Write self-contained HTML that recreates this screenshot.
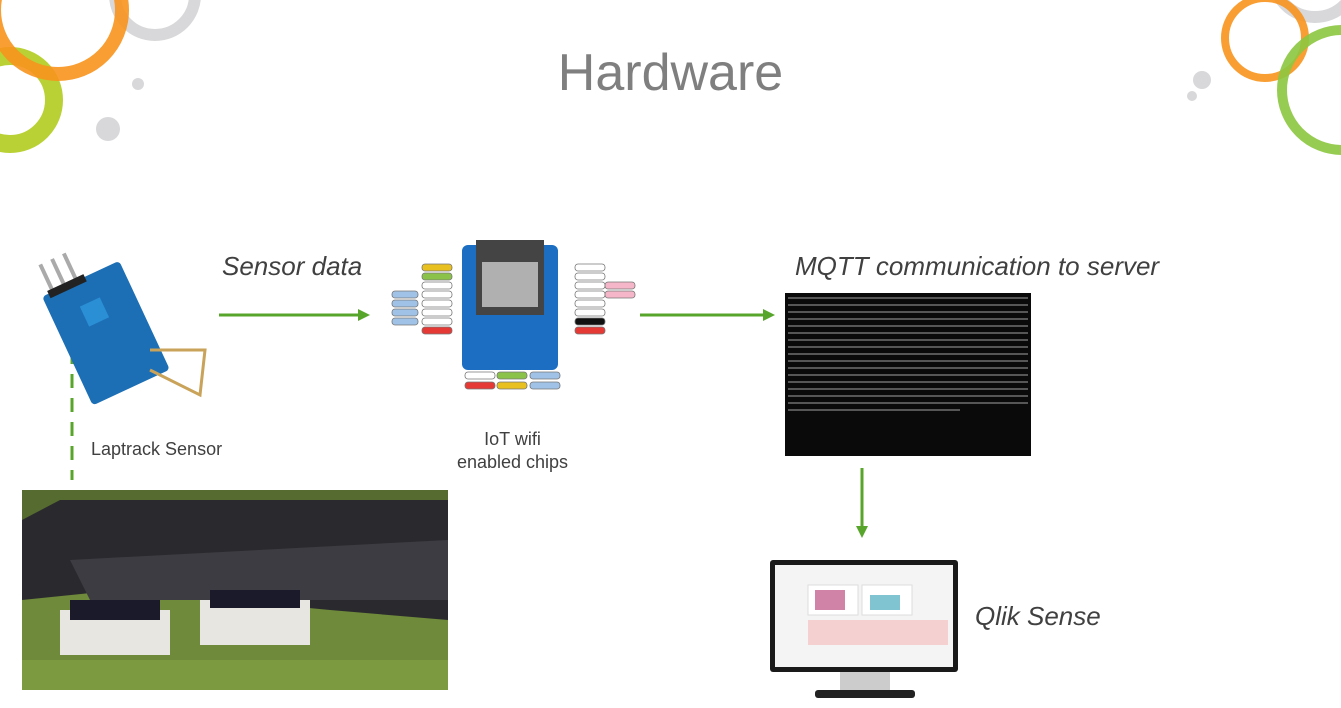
<!DOCTYPE html>
<html><head><style>
body{margin:0;width:1341px;height:708px;overflow:hidden;background:#fff;font-family:"Liberation Sans",sans-serif;position:relative}
.a{position:absolute}
.t{position:absolute;color:#404040}
</style></head><body>
<svg class="a" style="left:0;top:0" width="1341" height="708">
<circle cx="155" cy="-5" r="40" fill="none" stroke="#d8d8da" stroke-width="12"/>
<circle cx="10" cy="100" r="44" fill="none" stroke="#b5cf2a" stroke-width="18" opacity=".95"/>
<circle cx="58" cy="10" r="64" fill="none" stroke="#f7941d" stroke-width="14" opacity=".9"/>
<circle cx="138" cy="84" r="6" fill="#d8d8da"/>
<circle cx="108" cy="129" r="12" fill="#d8d8da"/>
<circle cx="1315" cy="-25" r="42" fill="none" stroke="#d8d8da" stroke-width="12"/>
<circle cx="1265" cy="38" r="40" fill="none" stroke="#f7941d" stroke-width="8" opacity=".9"/>
<circle cx="1342" cy="90" r="60" fill="none" stroke="#8cc63f" stroke-width="10" opacity=".9"/>
<circle cx="1202" cy="80" r="9" fill="#d8d8da"/>
<circle cx="1192" cy="96" r="5" fill="#d8d8da"/>
<line x1="219" y1="315" x2="360" y2="315" stroke="#58a52c" stroke-width="3"/>
<polygon points="358,309 370,315 358,321" fill="#58a52c"/>
<line x1="640" y1="315" x2="765" y2="315" stroke="#58a52c" stroke-width="3"/>
<polygon points="763,309 775,315 763,321" fill="#58a52c"/>
<line x1="862" y1="468" x2="862" y2="528" stroke="#58a52c" stroke-width="3"/>
<polygon points="856,526 862,538 868,526" fill="#58a52c"/>
<line x1="72" y1="350" x2="72" y2="480" stroke="#58a52c" stroke-width="3" stroke-dasharray="14,10"/>
<g transform="rotate(-25 120 310)">
<rect x="55" y="265" width="85" height="120" rx="4" fill="#1c6fb5"/>
<rect x="85" y="290" width="22" height="22" fill="#2b8fd6"/>
<rect x="65" y="235" width="4" height="30" fill="#aaa"/><rect x="78" y="235" width="4" height="30" fill="#aaa"/><rect x="91" y="235" width="4" height="30" fill="#aaa"/>
<rect x="62" y="262" width="40" height="8" fill="#222"/>
</g>
<path d="M150 350 L205 350 L200 395 L150 370" fill="none" stroke="#c9a35a" stroke-width="3"/>
<rect x="462" y="245" width="96" height="125" rx="6" fill="#1b6ec2"/>
<rect x="476" y="240" width="68" height="75" fill="#444"/>
<rect x="482" y="262" width="56" height="45" fill="#b0b0b0"/>
<g fill="#fff" stroke="#777" stroke-width=".8">
<rect x="422" y="264" width="30" height="7" rx="3" fill="#e8c020"/><rect x="422" y="273" width="30" height="7" rx="3" fill="#8bc34a"/>
<rect x="422" y="282" width="30" height="7" rx="3"/><rect x="422" y="291" width="30" height="7" rx="3"/>
<rect x="392" y="291" width="26" height="7" rx="3" fill="#9fc2e6"/><rect x="392" y="300" width="26" height="7" rx="3" fill="#9fc2e6"/>
<rect x="392" y="309" width="26" height="7" rx="3" fill="#9fc2e6"/><rect x="392" y="318" width="26" height="7" rx="3" fill="#9fc2e6"/>
<rect x="422" y="300" width="30" height="7" rx="3"/><rect x="422" y="309" width="30" height="7" rx="3"/><rect x="422" y="318" width="30" height="7" rx="3"/>
<rect x="422" y="327" width="30" height="7" rx="3" fill="#e53935"/>
<rect x="575" y="264" width="30" height="7" rx="3"/><rect x="575" y="273" width="30" height="7" rx="3"/>
<rect x="575" y="282" width="30" height="7" rx="3"/><rect x="575" y="291" width="30" height="7" rx="3"/>
<rect x="605" y="282" width="30" height="7" rx="3" fill="#f4b6c8"/><rect x="605" y="291" width="30" height="7" rx="3" fill="#f4b6c8"/>
<rect x="575" y="300" width="30" height="7" rx="3"/><rect x="575" y="309" width="30" height="7" rx="3"/>
<rect x="575" y="318" width="30" height="7" rx="3" fill="#111"/><rect x="575" y="327" width="30" height="7" rx="3" fill="#e53935"/>
<rect x="465" y="372" width="30" height="7" rx="3"/><rect x="497" y="372" width="30" height="7" rx="3" fill="#8bc34a"/><rect x="530" y="372" width="30" height="7" rx="3" fill="#9fc2e6"/>
<rect x="465" y="382" width="30" height="7" rx="3" fill="#e53935"/><rect x="497" y="382" width="30" height="7" rx="3" fill="#e8c020"/><rect x="530" y="382" width="30" height="7" rx="3" fill="#9fc2e6"/>
</g>
<rect x="785" y="293" width="246" height="163" fill="#0a0a0a"/>
<g stroke="#9a9a9a" stroke-width="1.5" opacity=".7">
<line x1="788" y1="298" x2="1028" y2="298"/><line x1="788" y1="305" x2="1028" y2="305"/><line x1="788" y1="312" x2="1028" y2="312"/><line x1="788" y1="319" x2="1028" y2="319"/><line x1="788" y1="326" x2="1028" y2="326"/><line x1="788" y1="333" x2="1028" y2="333"/><line x1="788" y1="340" x2="1028" y2="340"/><line x1="788" y1="347" x2="1028" y2="347"/><line x1="788" y1="354" x2="1028" y2="354"/><line x1="788" y1="361" x2="1028" y2="361"/><line x1="788" y1="368" x2="1028" y2="368"/><line x1="788" y1="375" x2="1028" y2="375"/><line x1="788" y1="382" x2="1028" y2="382"/><line x1="788" y1="389" x2="1028" y2="389"/><line x1="788" y1="396" x2="1028" y2="396"/><line x1="788" y1="403" x2="1028" y2="403"/><line x1="788" y1="410" x2="960" y2="410"/>
</g>
<rect x="22" y="490" width="426" height="200" fill="#6e8a3a"/>
<rect x="22" y="490" width="426" height="80" fill="#556b2f"/>
<polygon points="60,500 448,500 448,620 330,610 120,590 22,600 22,520" fill="#2a2a2e"/>
<polygon points="70,560 448,540 448,600 90,600" fill="#3c3c42"/>
<rect x="60" y="610" width="110" height="45" fill="#e8e6e0"/><rect x="200" y="600" width="110" height="45" fill="#e8e6e0"/>
<rect x="70" y="600" width="90" height="20" fill="#1a1a2a"/><rect x="210" y="590" width="90" height="18" fill="#1a1a2a"/>
<rect x="22" y="660" width="426" height="30" fill="#7c9a40"/>
<rect x="770" y="560" width="188" height="112" rx="3" fill="#1a1a1a"/>
<rect x="775" y="565" width="178" height="102" fill="#f4f4f4"/>
<rect x="808" y="585" width="50" height="30" fill="#fff" stroke="#ddd"/><rect x="862" y="585" width="50" height="30" fill="#fff" stroke="#ddd"/>
<rect x="815" y="590" width="30" height="20" fill="#b0306a" opacity=".6"/><rect x="870" y="595" width="30" height="15" fill="#2a9db0" opacity=".6"/>
<rect x="808" y="620" width="140" height="25" fill="#f4d0d0"/>
<rect x="840" y="672" width="50" height="18" fill="#ccc"/><rect x="815" y="690" width="100" height="8" rx="3" fill="#222"/>
</svg>
<div class="t" style="left:0;width:1341px;top:43px;text-align:center;font-size:52px;color:#7f7f7f">Hardware</div>
<div class="t" style="left:222px;top:251px;font-size:26px;font-style:italic">Sensor data</div>
<div class="t" style="left:795px;top:251px;font-size:26px;font-style:italic">MQTT communication to server</div>
<div class="t" style="left:91px;top:439px;font-size:18px">Laptrack Sensor</div>
<div class="t" style="left:440px;top:428px;width:145px;text-align:center;font-size:18px;line-height:23px">IoT wifi<br>enabled chips</div>
<div class="t" style="left:975px;top:601px;font-size:26px;font-style:italic">Qlik Sense</div>
</body></html>
